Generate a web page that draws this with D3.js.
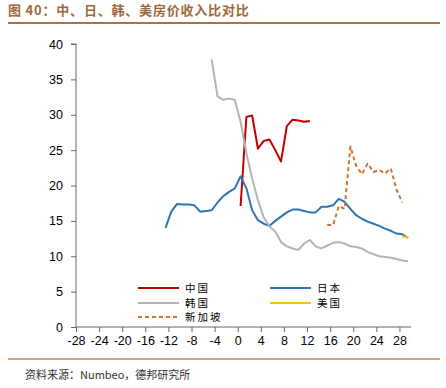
<!DOCTYPE html>
<html><head><meta charset="utf-8">
<script src="https://cdn.jsdelivr.net/npm/d3@7/dist/d3.min.js"></script>
<style>body{margin:0;background:#fff}svg{display:block}</style>
</head><body><svg id="c" width="446" height="388"></svg>
<script>
// Data (x = years relative to peak, y = price-to-income ratio)
const chinaX = [0.5,1.5,2.5,3.5,4.5,5.5,6.5,7.5,8.5,9.5,10.5,11.5,12.5];
const chinaY = [17.1,29.7,29.9,25.2,26.3,26.5,25.0,23.4,28.4,29.3,29.2,29.0,29.1];
const japanX = [-12.5,-11.5,-10.5,-9.5,-8.5,-7.5,-6.5,-5.5,-4.5,-3.5,-2.5,-1.5,-0.5,0.5,1.5,2.5,3.5,4.5,5.5,6.5,7.5,8.5,9.5,10.5,11.5,12.5,13.5,14.5,15.5,16.5,17.5,18.5,19.5,20.5,21.5,22.5,23.5,24.5,25.5,26.5,27.5,28.5,29.5];
const japanY = [14.0,16.3,17.4,17.3,17.3,17.2,16.3,16.4,16.5,17.6,18.5,19.1,19.6,21.3,19.6,16.5,15.1,14.6,14.3,15.0,15.6,16.2,16.6,16.6,16.4,16.2,16.2,17.0,17.0,17.2,18.1,17.7,16.7,15.8,15.3,14.9,14.6,14.3,13.9,13.6,13.2,13.1,12.6];
const koreaX = [-4.5,-3.5,-2.5,-1.5,-0.5,0.5,1.5,2.5,3.5,4.5,5.5,6.5,7.5,8.5,9.5,10.5,11.5,12.5,13.5,14.5,15.5,16.5,17.5,18.5,19.5,20.5,21.5,22.5,23.5,24.5,25.5,26.5,27.5,28.5,29.5];
const koreaY = [37.8,32.6,32.1,32.3,32.1,29.0,24.6,21.0,17.9,15.5,14.2,13.5,12.0,11.4,11.1,10.9,11.8,12.3,11.4,11.1,11.5,11.9,12.0,11.8,11.4,11.3,11.1,10.6,10.3,10.0,9.9,9.8,9.6,9.4,9.3];
const usaX = [28.5,29.5];
const usaY = [12.8,12.7];
const singX = [15.5,16.5,17.5,18.5,19.5,20.5,21.5,22.5,23.5,24.5,25.5,26.5,27.5,28.5];
const singY = [14.4,14.4,17.1,16.7,25.5,22.8,21.6,23.1,21.9,22.2,21.7,22.4,19.4,17.6];
const xTicks = [-28,-24,-20,-16,-12,-8,-4,0,4,8,12,16,20,24,28];
const yTicks = [0,5,10,15,20,25,30,35,40];
const seriesNames = ["中国","日本","韩国","美国","新加坡"];
const titleText = "图 40：中、日、韩、美房价收入比对比";
const sourceText = "资料来源：Numbeo，德邦研究所";

const colors = ["#C00000","#2E75B6","#B4B4B4","#FFC000","#D2722E"];
const series = [
  {name:seriesNames[0], xs:chinaX, ys:chinaY, color:colors[0], dash:null},
  {name:seriesNames[1], xs:japanX, ys:japanY, color:colors[1], dash:null},
  {name:seriesNames[2], xs:koreaX, ys:koreaY, color:colors[2], dash:null},
  {name:seriesNames[4], xs:singX, ys:singY, color:colors[4], dash:"4,3"},
  {name:seriesNames[3], xs:usaX, ys:usaY, color:colors[3], dash:null}
];

const svg = d3.select("#c");
const x = d3.scaleLinear().domain([-28,30]).range([76,411]);
const y = d3.scaleLinear().domain([0,40]).range([327,44]);

// title
const brown = "#9B6A3C";
svg.append("text").attr("x",8).attr("y",15).attr("fill",brown)
  .attr("font-family","'Noto Sans CJK SC'").attr("font-weight","bold").attr("font-size",13)
  .attr("letter-spacing",0.8)
  .text(titleText);
svg.append("line").attr("x1",8).attr("x2",440).attr("y1",23).attr("y2",23)
  .attr("stroke","#A8743F").attr("stroke-width",2);
svg.append("line").attr("x1",8).attr("x2",440).attr("y1",359).attr("y2",359)
  .attr("stroke","#C98A55").attr("stroke-width",1.5);
svg.append("text").attr("x",25).attr("y",379).attr("fill","#333")
  .attr("font-family","'Noto Sans CJK SC'").attr("font-size",11)
  .text(sourceText);

// axes
const yAxis = d3.axisLeft(y).tickValues(yTicks).tickSize(5).tickPadding(8);
const gy = svg.append("g").attr("transform","translate(76,0)").call(yAxis);
const xAxis = d3.axisBottom(x).tickValues(xTicks).tickSize(5).tickPadding(4).tickFormat(d=>String(d));
const gx = svg.append("g").attr("transform","translate(0,327)").call(xAxis);
[gx,gy].forEach(g=>{
  g.select(".domain").attr("stroke","#666");
  g.selectAll(".tick line").attr("stroke","#666");
  g.selectAll("text").attr("font-family","'Liberation Sans', Arial").attr("font-size",12.5).attr("fill","#000");
});
gy.select(".domain").attr("d","M-5,44H0V327");
gx.select(".domain").attr("d","M76,0H411");

// lines
const line = d3.line().x(d=>x(d[0])).y(d=>y(d[1]));
series.forEach(s=>{
  const pts = s.xs.map((v,i)=>[v,s.ys[i]]);
  svg.append("path").datum(pts).attr("d",line).attr("fill","none")
    .attr("stroke",s.color).attr("stroke-width",2)
    .attr("stroke-dasharray",s.dash).attr("stroke-linejoin","round");
});

// legend
const leg = [
  {name:seriesNames[0], color:colors[0], dash:null, lx:138, ly:288},
  {name:seriesNames[1], color:colors[1], dash:null, lx:270, ly:288},
  {name:seriesNames[2], color:colors[2], dash:null, lx:138, ly:303},
  {name:seriesNames[3], color:colors[3], dash:null, lx:270, ly:303},
  {name:seriesNames[4], color:colors[4], dash:"4,3", lx:138, ly:317}
];
leg.forEach(l=>{
  svg.append("line").attr("x1",l.lx).attr("x2",l.lx+41).attr("y1",l.ly).attr("y2",l.ly)
    .attr("stroke",l.color).attr("stroke-width",2).attr("stroke-dasharray",l.dash);
  svg.append("text").attr("x",l.lx+47).attr("y",l.ly+4).attr("font-family","'Noto Sans CJK SC'")
    .attr("font-size",10.5).attr("fill","#000").attr("letter-spacing",2).text(l.name);
});
</script></body></html>
